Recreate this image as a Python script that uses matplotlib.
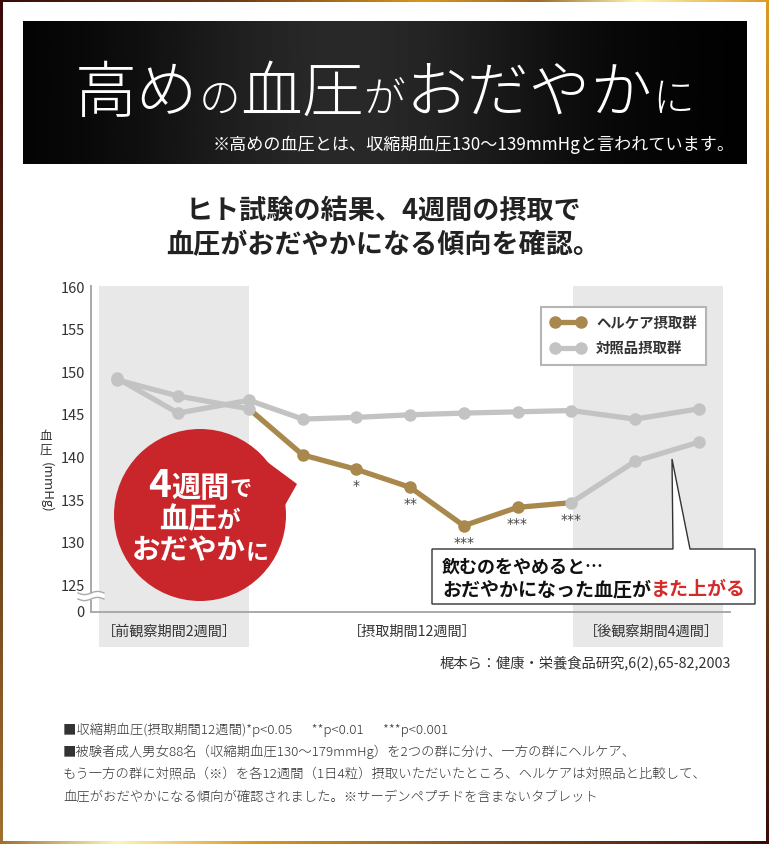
import matplotlib

matplotlib.use("Agg")
import matplotlib.pyplot as plt
import numpy as np
from matplotlib.colors import LinearSegmentedColormap
from matplotlib.lines import Line2D
from matplotlib.patches import Circle, Polygon

plt.rcParams["font.family"] = ["Noto Sans CJK JP", "DejaVu Sans"]

W, H = 769, 845
GOLD = "#a8884c"
GRAY = "#c3c3c3"
RED = "#c9262c"
SHADE = "#e8e8e8"
TXT = "#333333"

# measurement points: pre-observation (2w), intake every 2 weeks (12w), post-observation (4w)
x_pos = [-2.46, -1.32, 0, 1, 2, 3, 4, 5, 6, 7.19, 8.38]
helcare = [149.0, 147.1, 145.6, 140.2, 138.5, 136.4, 131.9, 134.05, 134.6, 139.45, 141.7]
control = [149.2, 145.1, 146.6, 144.4, 144.6, 144.9, 145.1, 145.25, 145.4, 144.4, 145.6]
sig_idx = [4, 5, 6, 7, 8]
sig_marks = ["*", "**", "***", "***", "***"]
series_labels = ["ヘルケア摂取群", "対照品摂取群"]
ytick_vals = [122, 125, 130, 135, 140, 145, 150, 155, 160]
ytick_labels = ["0", "125", "130", "135", "140", "145", "150", "155", "160"]
period_labels = ["［前観察期間2週間］", "［摂取期間12週間］", "［後観察期間4週間］"]
shade_spans = [(-2.79, 0.0), (6.03, 8.83)]

footnotes = [
    "■収縮期血圧(摂取期間12週間)*p<0.05　  **p<0.01　  ***p<0.001",
    "■被験者成人男女88名（収縮期血圧130～179mmHg）を2つの群に分け、一方の群にヘルケア、",
    "もう一方の群に対照品（※）を各12週間（1日4粒）摂取いただいたところ、ヘルケアは対照品と比較して、",
    "血圧がおだやかになる傾向が確認されました。※サーデンペプチドを含まないタブレット",
]

fig = plt.figure(figsize=(W / 100, H / 100), dpi=100)
fig.patch.set_facecolor("white")

# ---- chart axes -------------------------------------------------------------
ax = fig.add_axes([91 / W, 1 - 648 / H, (730 - 91) / W, (648 - 287) / H])
ax.patch.set_alpha(0)
ax.set_xlim(-2.942, 8.957)
ax.set_ylim(117.68, 160)
for lo, hi in shade_spans:
    ax.axvspan(lo, hi, color=SHADE, lw=0, zorder=0)

for s in ("top", "right"):
    ax.spines[s].set_visible(False)
ax.spines["bottom"].set_position(("data", 121.78))
ax.spines["left"].set_bounds(121.78, 160)
for s in ("bottom", "left"):
    ax.spines[s].set_color("#aaaaaa")
    ax.spines[s].set_linewidth(1.4)
ax.set_xticks([])
ax.set_yticks(ytick_vals, ytick_labels)
ax.tick_params(axis="y", length=0, pad=4.5, labelsize=10.5, labelcolor=TXT)

lw, ms = 3.8, 8
# helcare: gray before intake, gold during intake, gray after
ax.plot(x_pos[2:9], helcare[2:9], color=GOLD, lw=lw, zorder=2, solid_capstyle="round")
ax.plot(x_pos[3:8], helcare[3:8], "o", color=GOLD, ms=ms, zorder=2)
ax.plot(x_pos[:3], helcare[:3], "-o", color=GRAY, lw=lw, ms=ms, zorder=3)
ax.plot(x_pos[8:], helcare[8:], "-o", color=GRAY, lw=lw, ms=ms, zorder=3)
ax.plot(x_pos, control, "-o", color=GRAY, lw=lw, ms=ms, zorder=3)

for i, m in zip(sig_idx, sig_marks):
    ax.annotate(m, (x_pos[i], helcare[i]), xytext=(0, -16), textcoords="offset pixels",
                ha="center", va="center", fontsize=10, color="#444444", family="DejaVu Sans")

handles = [
    Line2D([], [], color=GOLD, lw=lw, marker="o", ms=ms),
    Line2D([], [], color=GRAY, lw=lw, marker="o", ms=ms),
]
leg = ax.legend(handles, series_labels, loc="upper left", bbox_to_anchor=(541 / W, 1 - 308 / H),
                bbox_transform=fig.transFigure, numpoints=2, fancybox=False, framealpha=1,
                edgecolor="#b5b5b5", borderpad=0.65, labelspacing=0.8, handlelength=2.4,
                handletextpad=0.75, borderaxespad=0, prop=dict(size=10.4, weight="bold"))
leg.get_frame().set_linewidth(1.5)
for t in leg.get_texts():
    t.set_color(TXT)

# ---- overlay in pixel coordinates --------------------------------------------
ov = fig.add_axes([0, 0, 1, 1])
ov.patch.set_alpha(0)
ov.axis("off")

t = np.linspace(0, 1, 256)
banner = 0.16 * np.exp(-((t - 0.45) / 0.3) ** 2)
ov.imshow(banner[None, :], cmap="gray", vmin=0, vmax=1, extent=(23, 747, 165, 22),
          aspect="auto", interpolation="bilinear")

frame = {
    "top": ([(0, "#3a0a0a"), (0.3, "#6b3a16"), (0.55, "#d8981e"), (0.7, "#9c6a2a"),
             (0.83, "#fff6b4"), (1, "#dc9a22")], (0, W, 3, 0), False),
    "bottom": ([(0, "#a0702e"), (0.15, "#fff6b4"), (0.33, "#dc9a1e"), (0.6, "#8c5a22"),
                (1, "#3a0a0a")], (0, W, H, H - 3), False),
    "left": ([(0, "#3a0a0a"), (0.5, "#5a3014"), (1, "#a0702e")], (0, 3, H, 0), True),
    "right": ([(0, "#dc9a22"), (0.5, "#8c5a22"), (1, "#3a0a0a")], (W - 3, W, H, 0), True),
}
for name, (stops, ext, vertical) in frame.items():
    cmap = LinearSegmentedColormap.from_list(name, stops)
    g = t[:, None] if vertical else t[None, :]
    ov.imshow(g, cmap=cmap, vmin=0, vmax=1, extent=ext, aspect="auto", interpolation="bilinear")

ov.set_xlim(0, W)
ov.set_ylim(H, 0)

renderer = fig.canvas.get_renderer()


def run_text(x, y, pieces, ha="left", **common):
    """Draw several text pieces on one baseline, each with its own style."""
    items = [ov.text(0, y, s, va="baseline", ha="left", **common, **kw) for s, kw in pieces]
    widths = [it.get_window_extent(renderer).width for it in items]
    total = sum(widths)
    start = {"left": x, "center": x - total / 2, "right": x - total}[ha]
    for it, w in zip(items, widths):
        it.set_x(start)
        start += w


big, small = dict(fontsize=44.5), dict(fontsize=30)
run_text(75, 112, [("高め", big), ("の", small), ("血圧", big), ("が", small),
                   ("おだやか", big), ("に", small)], color="white", weight="light")
ov.text(735, 145, "※高めの血圧とは、収縮期血圧130〜139mmHgと言われています。",
        ha="right", va="center", color="white", fontsize=12.3)

ov.text(383, 211, "ヒト試験の結果、4週間の摂取で", ha="center", va="center",
        fontsize=19.5, weight="bold", color="#222222")
ov.text(383, 245, "血圧がおだやかになる傾向を確認。", ha="center", va="center",
        fontsize=19.5, weight="bold", color="#222222")

# y label (vertical writing)
ov.text(46, 437, "血", ha="center", va="center", fontsize=9, color=TXT)
ov.text(46, 450, "圧", ha="center", va="center", fontsize=9, color=TXT)
ov.text(46, 487, "(mmHg)", ha="center", va="center", fontsize=9.5, color=TXT, rotation=270)

# axis break mark
wx = np.linspace(78, 104, 60)
wave = 1.6 * np.sin((wx - 78) / 26 * 2 * np.pi)
ov.fill_between(wx, 594 + wave, 600 + wave, color="white", lw=0)
ov.plot(wx, 594 + wave, color="#aaaaaa", lw=1)
ov.plot(wx, 600 + wave, color="#aaaaaa", lw=1)

for cx, lbl in zip([169, 412, 651], period_labels):
    ov.text(cx, 632, lbl, ha="center", va="center", fontsize=10.2, color=TXT)

# red speech bubble
ov.add_patch(Circle((200, 516), 86, color=RED, lw=0))
ov.add_patch(Polygon([(266, 462), (297, 485), (284, 508)], closed=True, color=RED, lw=0))
run_text(200, 497, [("4", dict(fontsize=28)), ("週間", dict(fontsize=21)), ("で", dict(fontsize=16))],
         ha="center", color="white", weight="bold")
run_text(200, 528, [("血圧", dict(fontsize=21)), ("が", dict(fontsize=17))],
         ha="center", color="white", weight="bold")
run_text(200, 559, [("おだやか", dict(fontsize=20.5)), ("に", dict(fontsize=16.5))],
         ha="center", color="white", weight="bold")

# callout box
ov.add_patch(Polygon([(432, 550), (673, 550), (672, 460), (690, 550), (755, 550), (755, 605),
                      (432, 605)], closed=True, fc="white", ec="#333333", lw=1))
ov.text(442, 573, "飲むのをやめると…", ha="left", va="baseline", fontsize=13,
        weight="bold", color="#111111")
run_text(442, 595, [("おだやかになった血圧が", dict(color="#111111")), ("また上がる", dict(color="#d42a2a"))],
         fontsize=13.7, weight="bold")

ov.text(731, 663, "梶本ら：健康・栄養食品研究,6(2),65-82,2003", ha="right", va="center",
        fontsize=10.3, color=TXT)

for k, line in enumerate(footnotes):
    ov.text(63, [730, 752, 775, 797][k], line, ha="left", va="center", fontsize=9.6,
            color=TXT, weight="light")

fig.savefig("out.png", dpi=100, facecolor="white")
